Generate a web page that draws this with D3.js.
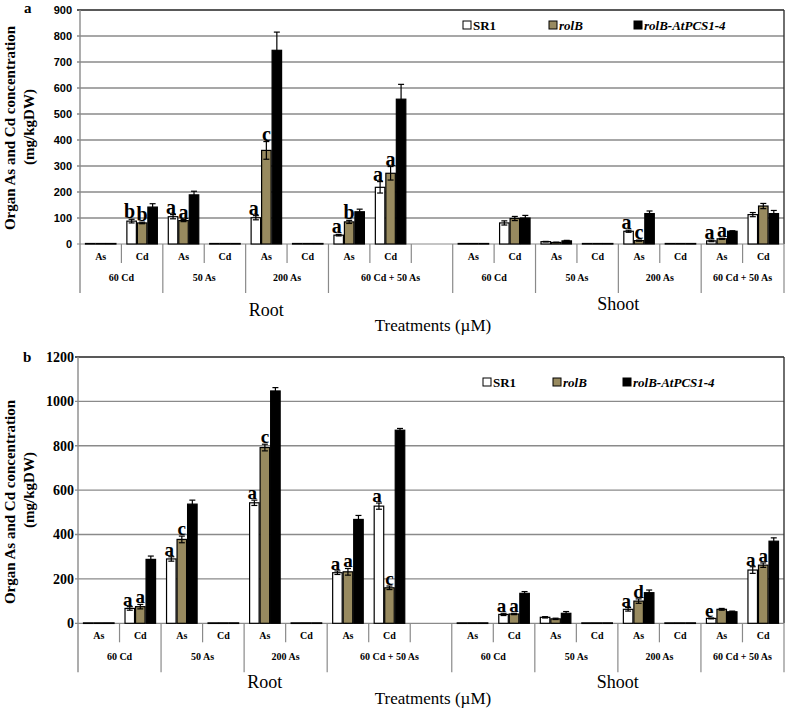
<!DOCTYPE html>
<html><head><meta charset="utf-8">
<script src="https://cdn.jsdelivr.net/npm/d3@7"></script>
<style>body{margin:0;background:#fff}svg{display:block}</style>
</head><body><svg id="c" width="787" height="709"></svg>
<script>
// ---------- data ----------
const innerLabels = ["As","Cd","As","Cd","As","Cd","As","Cd","","As","Cd","As","Cd","As","Cd","As","Cd"];
const groupLabels = ["60 Cd","50 As","200 As","60 Cd + 50 As","60 Cd","50 As","200 As","60 Cd + 50 As"];
const groupSpans = [2,2,2,3,2,2,2,2];
const organLabels = ["Root","Shoot"];
const organSpans = [9,8];
const seriesNames = ["SR1","rolB","rolB-AtPCS1-4"];
const seriesColors = ["#ffffff","#988a5f","#000000"];

const aTicks = [0,100,200,300,400,500,600,700,800,900];
const aSR1  = [2, 88, 105, 2, 101, 2, 34, 218, null, 2, 81, 9, 2, 49, 2, 12, 113];
const aRolB = [2, 81, 90, 2, 360, 2, 85, 272, null, 2, 98, 6, 2, 13, 2, 20, 146];
const aPCS  = [2, 142, 189, 2, 745, 2, 124, 557, null, 2, 100, 12, 2, 117, 2, 49, 117];
const aSR1Err  = [0, 7, 8, 0, 8, 0, 3, 22, null, 0, 8, 1, 0, 4, 0, 3, 8];
const aRolBErr = [0, 3, 4, 0, 34, 0, 6, 26, null, 0, 8, 1, 0, 2, 0, 2, 10];
const aPCSErr  = [0, 13, 14, 0, 70, 0, 10, 57, null, 0, 10, 2, 0, 10, 0, 2, 12];
const aSR1Letters  = ["","b","a","","a","","a","a","","","","","","a","","a",""];
const aRolBLetters = ["","b","a","","c","","b","a","","","","","","c","","a",""];

const bTicks = [0,200,400,600,800,1000,1200];
const bSR1  = [2, 67, 290, 2, 543, 2, 228, 528, null, 2, 40, 27, 2, 63, 2, 22, 240];
const bRolB = [2, 75, 378, 2, 792, 2, 232, 160, null, 2, 42, 20, 2, 100, 2, 63, 262];
const bPCS  = [2, 288, 537, 2, 1047, 2, 468, 870, null, 2, 135, 45, 2, 138, 2, 52, 370];
const bSR1Err  = [0, 8, 10, 0, 12, 0, 8, 14, null, 0, 5, 3, 0, 8, 0, 2, 15];
const bRolBErr = [0, 10, 15, 0, 15, 0, 15, 8, null, 0, 3, 3, 0, 10, 0, 4, 10];
const bPCSErr  = [0, 15, 18, 0, 15, 0, 18, 8, null, 0, 8, 8, 0, 12, 0, 3, 15];
const bSR1Letters  = ["","a","a","","a","","a","a","","","a","","","a","","e","a"];
const bRolBLetters = ["","a","c","","c","","a","c","","","a","","","d","","","a"];

const yTitle1 = "Organ As and Cd concentration";
const yTitle2 = "(mg/kgDW)";
const xTitle = "Treatments (\u00b5M)";

// ---------- drawing ----------
const svg = d3.select("#c");
const SERIF = "'Liberation Serif','Times New Roman',serif";
const SANS = "'Liberation Sans',Arial,sans-serif";

function drawPanel(cfg) {
  const g = svg.append("g");
  const x = d3.scaleBand().domain(d3.range(innerLabels.length))
    .range([cfg.left, cfg.right]).paddingInner(0.24).paddingOuter(0.12);
  const xs = d3.scaleBand().domain(d3.range(3)).range([0, x.bandwidth()]);
  const y = d3.scaleLinear().domain([0, cfg.ticks[cfg.ticks.length-1]]).range([cfg.base, cfg.top]);
  const step = x.step();
  const bound = i => cfg.left + i * step;

  g.selectAll(".grid").data(cfg.ticks.slice(1, -1)).join("line")
    .attr("x1", cfg.left - 3).attr("x2", cfg.right)
    .attr("y1", d => y(d)).attr("y2", d => y(d))
    .attr("stroke", "#8a8a8a").attr("stroke-width", 1.4);
  const yTop = y(cfg.ticks[cfg.ticks.length-1]);
  g.append("line").attr("x1", cfg.left - 3).attr("x2", cfg.right).attr("y1", yTop).attr("y2", yTop)
    .attr("stroke", "#222").attr("stroke-width", 1.6);
  g.append("line").attr("x1", cfg.right).attr("x2", cfg.right).attr("y1", cfg.top).attr("y2", cfg.base)
    .attr("stroke", "#333").attr("stroke-width", 1.4);
  g.append("line").attr("x1", cfg.left - 3).attr("x2", cfg.right).attr("y1", cfg.base).attr("y2", cfg.base)
    .attr("stroke", "#8a8a8a").attr("stroke-width", 1.2);
  g.append("line").attr("x1", cfg.left).attr("x2", cfg.left).attr("y1", cfg.top).attr("y2", cfg.base + 49)
    .attr("stroke", "#8a8a8a").attr("stroke-width", 1.4);

  g.selectAll(".tl").data(cfg.ticks).join("text")
    .attr("x", cfg.tickX).attr("y", d => y(d)).attr("dy", "0.35em")
    .attr("text-anchor", "end").attr("font-family", cfg.tickFont).attr("font-weight", "bold")
    .attr("font-size", cfg.tickSize).attr("fill", "#000").text(d => d);

  const groupStarts = [0];
  groupSpans.forEach((s, i) => groupStarts.push(groupStarts[i] + s));
  for (let i = 1; i <= innerLabels.length; i++) {
    const long = groupStarts.includes(i);
    g.append("line").attr("x1", bound(i)).attr("x2", bound(i))
      .attr("y1", cfg.base).attr("y2", cfg.base + (long ? 49 : 19))
      .attr("stroke", "#8a8a8a").attr("stroke-width", 1.2);
  }
  g.selectAll(".il").data(innerLabels).join("text")
    .attr("x", (d, i) => x(i) + x.bandwidth() / 2).attr("y", cfg.base + 12).attr("dy", "0.35em")
    .attr("text-anchor", "middle").attr("font-family", SERIF).attr("font-weight", "bold")
    .attr("font-size", 10).text(d => d);
  g.selectAll(".gl").data(groupLabels).join("text")
    .attr("x", (d, i) => (bound(groupStarts[i]) + bound(groupStarts[i + 1])) / 2)
    .attr("y", cfg.base + 33).attr("dy", "0.35em")
    .attr("text-anchor", "middle").attr("font-family", SERIF).attr("font-weight", "bold")
    .attr("font-size", 10).text(d => d);
  let acc = 0;
  organLabels.forEach((o, i) => {
    const c = (bound(acc) + bound(acc + organSpans[i])) / 2;
    acc += organSpans[i];
    g.append("text").attr("x", c).attr("y", cfg.organY[i]).attr("dy", "0.35em")
      .attr("text-anchor", "middle").attr("font-family", SERIF).attr("font-size", 18).text(o);
  });
  g.append("text").attr("x", cfg.xTitleX).attr("y", cfg.xTitleY).attr("dy", "0.35em")
    .attr("text-anchor", "middle").attr("font-family", SERIF).attr("font-size", 17).text(xTitle);

  const vals = [cfg.s1, cfg.s2, cfg.s3];
  const errs = [cfg.e1, cfg.e2, cfg.e3];
  const lets = [cfg.l1, cfg.l2];
  vals.forEach((arr, si) => {
    arr.forEach((v, i) => {
      if (v === null) return;
      const bx = x(i) + xs(si);
      const bw = xs.bandwidth();
      g.append("rect").attr("x", bx + 0.5).attr("y", y(v)).attr("width", bw - 1)
        .attr("height", Math.max(0.6, cfg.base - y(v)))
        .attr("fill", seriesColors[si]).attr("stroke", "#000").attr("stroke-width", 1.2);
      const e = errs[si][i];
      if (e > 0) {
        const cx = bx + bw / 2;
        g.append("line").attr("x1", cx).attr("x2", cx).attr("y1", y(v - e)).attr("y2", y(v + e))
          .attr("stroke", "#000").attr("stroke-width", 1.2);
        [v - e, v + e].forEach(t => g.append("line").attr("x1", cx - 3).attr("x2", cx + 3)
          .attr("y1", y(t)).attr("y2", y(t)).attr("stroke", "#000").attr("stroke-width", 1.2));
      }
      if (si < 2 && lets[si][i]) {
        g.append("text").attr("x", bx + bw / 2 - (si === 0 ? 2 : 0)).attr("y", y(v + e) - 1)
          .attr("text-anchor", "middle").attr("font-family", SERIF).attr("font-weight", "bold")
          .attr("font-size", cfg.letterSize).text(lets[si][i]);
      }
    });
  });

  seriesNames.forEach((n, i) => {
    g.append("rect").attr("x", cfg.legX[i]).attr("y", cfg.legY - 4).attr("width", 8).attr("height", 8)
      .attr("fill", seriesColors[i]).attr("stroke", "#000").attr("stroke-width", 1);
    g.append("text").attr("x", cfg.legX[i] + 10).attr("y", cfg.legY).attr("dy", "0.35em")
      .attr("font-family", SERIF).attr("font-weight", "bold").attr("font-size", 13)
      .attr("font-style", i === 0 ? "normal" : "italic").text(n);
  });

  [yTitle1, yTitle2].forEach((t, i) => {
    g.append("text").attr("transform", `translate(${cfg.yTitleX[i]},${cfg.yTitleY[i]}) rotate(-90)`)
      .attr("dy", "0.35em").attr("text-anchor", "middle").attr("font-family", SERIF)
      .attr("font-weight", "bold").attr("font-size", 15).text(t);
  });
  g.append("text").attr("x", cfg.panelX).attr("y", cfg.panelY).attr("dy", "0.35em")
    .attr("font-family", SERIF).attr("font-weight", "bold").attr("font-size", 15).text(cfg.panel);
}

drawPanel({
  panel: "a", panelX: 24, panelY: 8,
  left: 80, right: 784, top: 10, base: 244, ticks: aTicks,
  tickX: 72, tickFont: SANS, tickSize: 11,
  s1: aSR1, s2: aRolB, s3: aPCS, e1: aSR1Err, e2: aRolBErr, e3: aPCSErr,
  l1: aSR1Letters, l2: aRolBLetters, letterSize: 20,
  organY: [310, 304], xTitleX: 433, xTitleY: 325,
  legX: [463, 549, 634], legY: 25,
  yTitleX: [10, 29], yTitleY: [128, 127]
});
drawPanel({
  panel: "b", panelX: 23, panelY: 357,
  left: 78, right: 784, top: 357, base: 623.3, ticks: bTicks,
  tickX: 74, tickFont: SERIF, tickSize: 14,
  s1: bSR1, s2: bRolB, s3: bPCS, e1: bSR1Err, e2: bRolBErr, e3: bPCSErr,
  l1: bSR1Letters, l2: bRolBLetters, letterSize: 19,
  organY: [682, 682], xTitleX: 433, xTitleY: 698,
  legX: [483, 553, 623], legY: 382,
  yTitleX: [10, 29], yTitleY: [502, 490]
});
</script></body></html>
